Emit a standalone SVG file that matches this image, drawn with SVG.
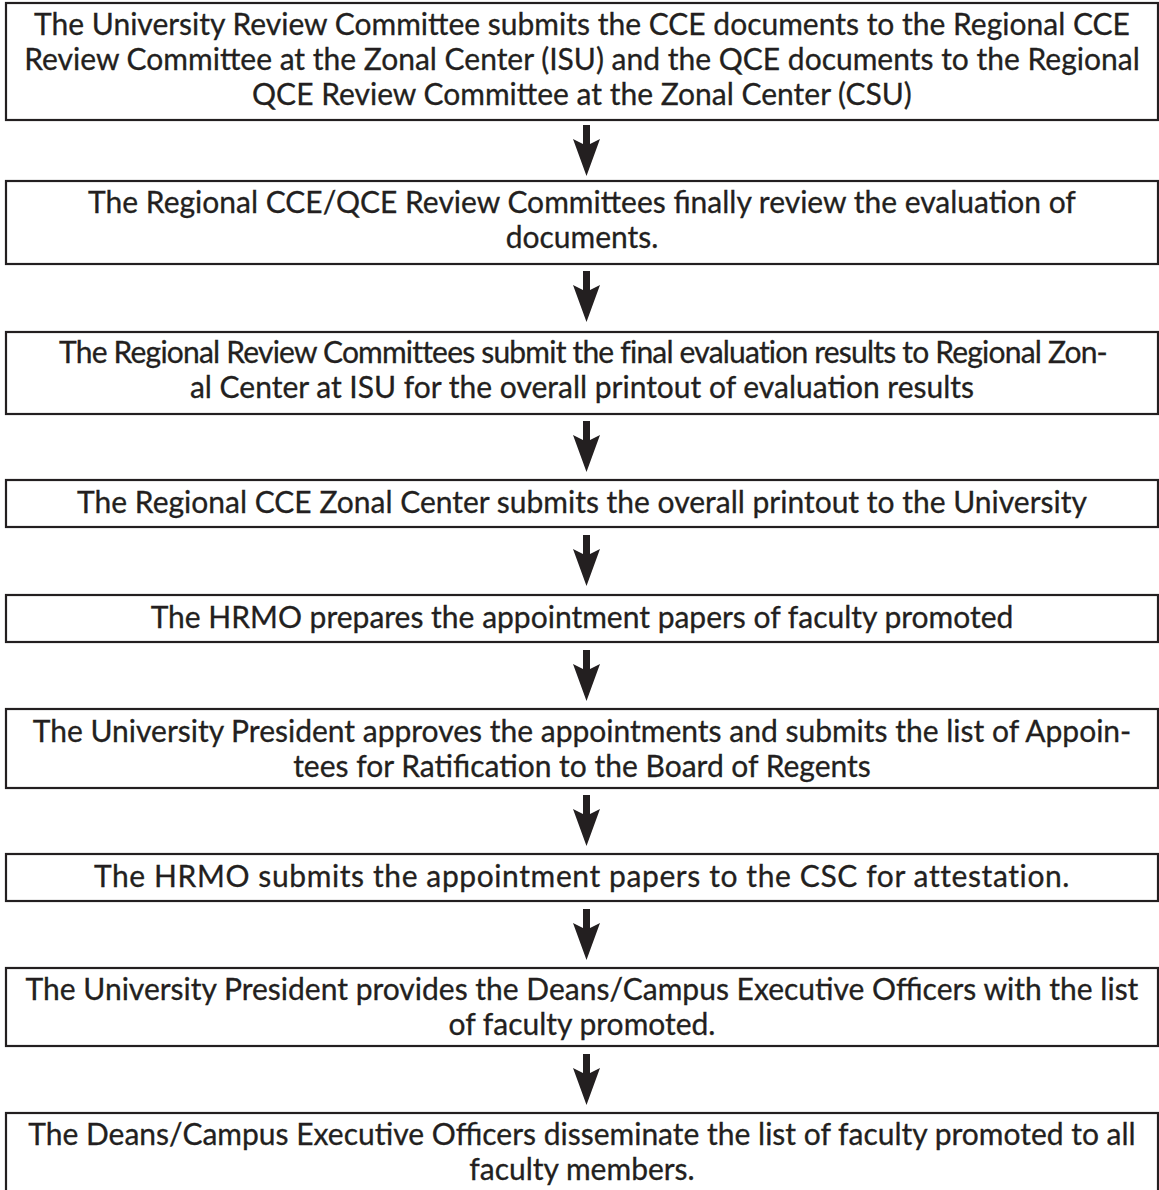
<svg xmlns="http://www.w3.org/2000/svg" width="1159" height="1190" viewBox="0 0 1159 1190">
<defs>
<style>
.box{fill:#ffffff;stroke:#231f20;stroke-width:2.2}
.t{font-family:Lato,"Open Sans","Liberation Sans",sans-serif;font-size:30px;fill:#231f20;stroke:#231f20;stroke-width:0.3;text-anchor:middle}
.arr{fill:#231f20}
</style>
<path id="ah" d="M-3.5,0 H3.5 V19 L13.5,14 L0,51 L-13.5,14 L-3.5,19 Z"/>
</defs>
<rect width="1159" height="1190" fill="#ffffff"/>
<g id="connectors" class="arr">
<use href="#ah" x="586.5" y="125"/>
<use href="#ah" x="586.5" y="271"/>
<use href="#ah" x="586.5" y="421"/>
<use href="#ah" x="586.5" y="535"/>
<use href="#ah" x="586.5" y="650"/>
<use href="#ah" x="586.5" y="795"/>
<use href="#ah" x="586.5" y="909"/>
<use href="#ah" x="586.5" y="1054"/>
</g>
<g id="n1"><rect class="box" x="6" y="3" width="1152" height="117"/>
<text class="t" x="582" y="35">The University Review Committee submits the CCE documents to the Regional CCE</text>
<text class="t" x="582" y="70">Review Committee at the Zonal Center (ISU) and the QCE documents to the Regional</text>
<text class="t" x="582" y="105">QCE Review Committee at the Zonal Center (CSU)</text></g>
<g id="n2"><rect class="box" x="6" y="181" width="1152" height="83"/>
<text class="t" x="582" y="213">The Regional CCE/QCE Review Committees finally review the evaluation of</text>
<text class="t" x="582" y="248">documents.</text></g>
<g id="n3"><rect class="box" x="6" y="332" width="1152" height="82"/>
<text class="t" x="583" y="363" style="letter-spacing:-0.8px">The Regional Review Committees submit the final evaluation results to Regional Zon-</text>
<text class="t" x="582" y="398">al Center at ISU for the overall printout of evaluation results</text></g>
<g id="n4"><rect class="box" x="6" y="480" width="1152" height="47"/>
<text class="t" x="582" y="513">The Regional CCE Zonal Center submits the overall printout to the University</text></g>
<g id="n5"><rect class="box" x="6" y="595" width="1152" height="47"/>
<text class="t" x="582" y="628">The HRMO prepares the appointment papers of faculty promoted</text></g>
<g id="n6"><rect class="box" x="6" y="709" width="1152" height="79"/>
<text class="t" x="582" y="742">The University President approves the appointments and submits the list of Appoin-</text>
<text class="t" x="582" y="777">tees for Ratification to the Board of Regents</text></g>
<g id="n7"><rect class="box" x="6" y="854" width="1152" height="47"/>
<text class="t" x="582" y="887" style="letter-spacing:0.6px">The HRMO submits the appointment papers to the CSC for attestation.</text></g>
<g id="n8"><rect class="box" x="6" y="968" width="1152" height="78"/>
<text class="t" x="582" y="1000">The University President provides the Deans/Campus Executive Officers with the list</text>
<text class="t" x="582" y="1035">of faculty promoted.</text></g>
<g id="n9"><rect class="box" x="6" y="1113" width="1152" height="80"/>
<text class="t" x="582" y="1145">The Deans/Campus Executive Officers disseminate the list of faculty promoted to all</text>
<text class="t" x="582" y="1180">faculty members.</text></g>
</svg>
